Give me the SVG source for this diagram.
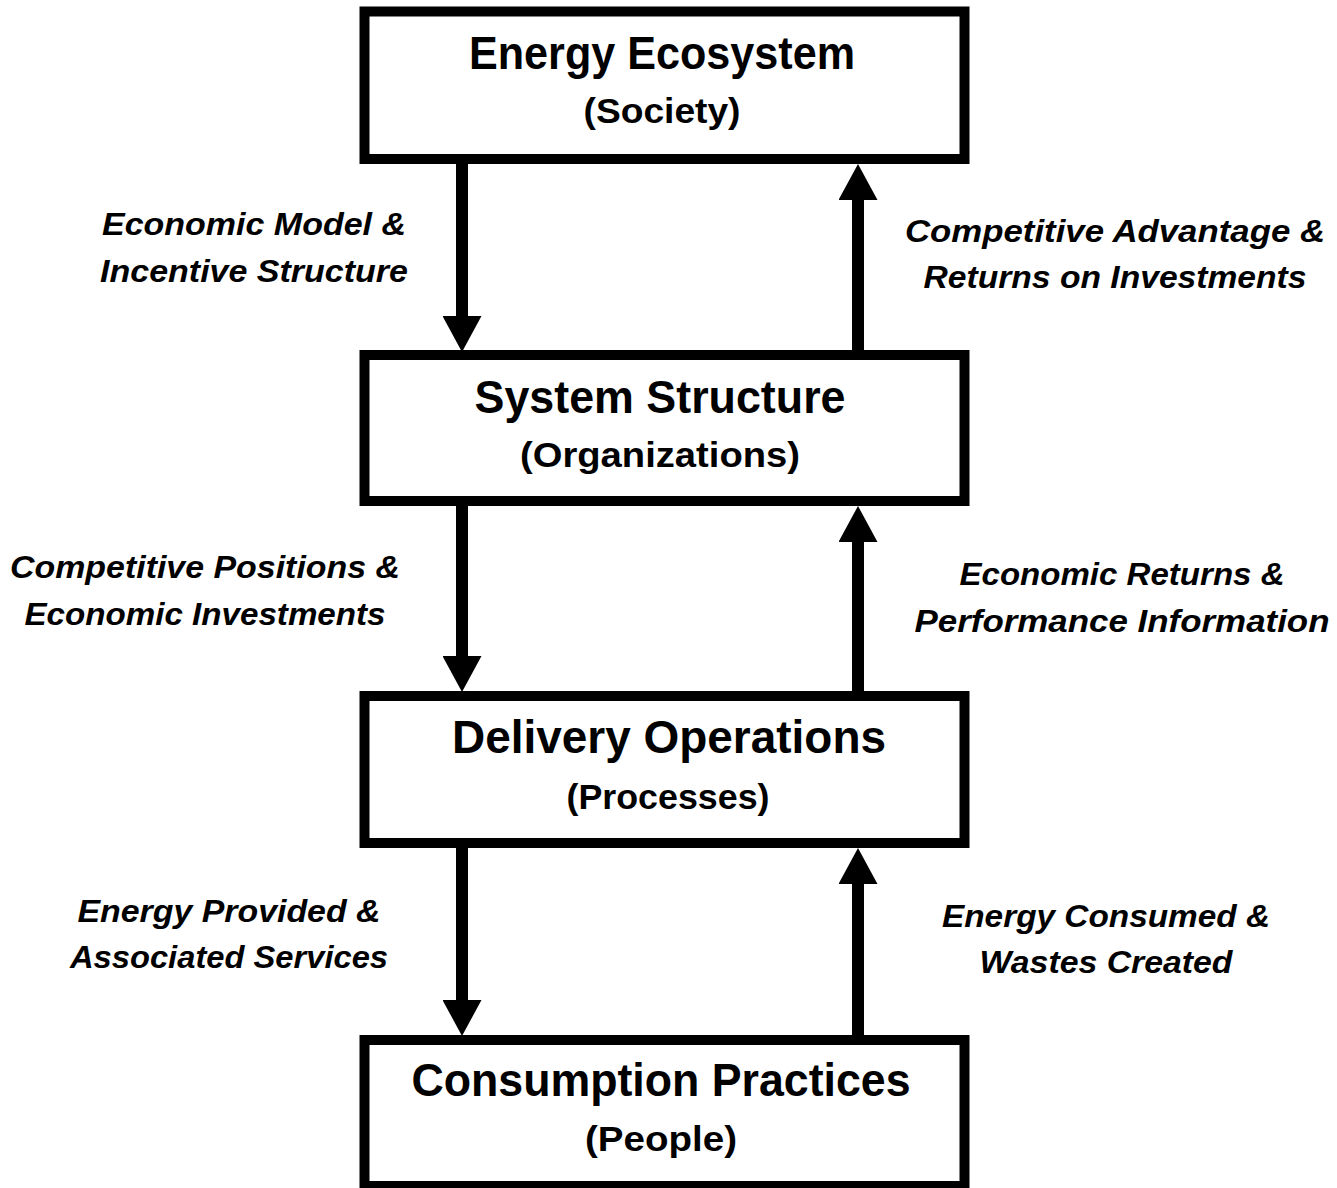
<svg xmlns="http://www.w3.org/2000/svg" width="1337" height="1188" viewBox="0 0 1337 1188">
<style>
.box{fill:#fff;stroke:#000;stroke-width:10}
.t{font-family:"Liberation Sans",Arial,sans-serif;font-weight:bold;fill:#000;text-anchor:middle}
.h{font-size:46px}
.s{font-size:35px}
.l{font-family:"Liberation Sans",Arial,sans-serif;font-weight:bold;font-style:italic;font-size:32px;fill:#000;text-anchor:middle}
.c{stroke:#000;stroke-width:12;fill:none}
</style>
<defs>
<marker id="ah" viewBox="0 0 36 39" refX="0" refY="19.5" markerWidth="36" markerHeight="39" markerUnits="userSpaceOnUse" orient="auto">
<path d="M0,0 L36,19.5 L0,39 Z" fill="#000"/>
</marker>
</defs>
<rect width="1337" height="1188" fill="#fff"/>
<g id="connectors">
<line class="c" x1="462" y1="162" x2="462" y2="316" marker-end="url(#ah)"/>
<line class="c" x1="858" y1="352" x2="858" y2="200" marker-end="url(#ah)"/>
<line class="c" x1="462" y1="504" x2="462" y2="656" marker-end="url(#ah)"/>
<line class="c" x1="858" y1="693" x2="858" y2="542" marker-end="url(#ah)"/>
<line class="c" x1="462" y1="846" x2="462" y2="1000" marker-end="url(#ah)"/>
<line class="c" x1="858" y1="1037" x2="858" y2="884" marker-end="url(#ah)"/>
</g>
<g id="labels">
<text class="l" x="254" y="235" textLength="304" lengthAdjust="spacingAndGlyphs">Economic Model &amp;</text>
<text class="l" x="254" y="282" textLength="308" lengthAdjust="spacingAndGlyphs">Incentive Structure</text>
<text class="l" x="1115" y="242" textLength="420" lengthAdjust="spacingAndGlyphs">Competitive Advantage &amp;</text>
<text class="l" x="1115" y="288" textLength="383" lengthAdjust="spacingAndGlyphs">Returns on Investments</text>
<text class="l" x="205" y="578" textLength="390" lengthAdjust="spacingAndGlyphs">Competitive Positions &amp;</text>
<text class="l" x="205" y="625" textLength="361" lengthAdjust="spacingAndGlyphs">Economic Investments</text>
<text class="l" x="1122" y="585" textLength="325" lengthAdjust="spacingAndGlyphs">Economic Returns &amp;</text>
<text class="l" x="1122" y="632" textLength="415" lengthAdjust="spacingAndGlyphs">Performance Information</text>
<text class="l" x="229" y="922" textLength="303" lengthAdjust="spacingAndGlyphs">Energy Provided &amp;</text>
<text class="l" x="229" y="968" textLength="318" lengthAdjust="spacingAndGlyphs">Associated Services</text>
<text class="l" x="1106" y="927" textLength="328" lengthAdjust="spacingAndGlyphs">Energy Consumed &amp;</text>
<text class="l" x="1106" y="973" textLength="253" lengthAdjust="spacingAndGlyphs">Wastes Created</text>
</g>
<g id="node-ecosystem">
<rect class="box" x="364.5" y="11.5" width="600" height="147.5"/>
<text class="t h" x="662" y="69" textLength="386" lengthAdjust="spacingAndGlyphs">Energy Ecosystem</text>
<text class="t s" x="662" y="123" textLength="157" lengthAdjust="spacingAndGlyphs">(Society)</text>
</g>
<g id="node-structure">
<rect class="box" x="364.5" y="355" width="600" height="146"/>
<text class="t h" x="660" y="413" textLength="371" lengthAdjust="spacingAndGlyphs">System Structure</text>
<text class="t s" x="660" y="467" textLength="280" lengthAdjust="spacingAndGlyphs">(Organizations)</text>
</g>
<g id="node-operations">
<rect class="box" x="364.5" y="696" width="600" height="147"/>
<text class="t h" x="669" y="753" textLength="434" lengthAdjust="spacingAndGlyphs">Delivery Operations</text>
<text class="t s" x="668" y="809" textLength="203" lengthAdjust="spacingAndGlyphs">(Processes)</text>
</g>
<g id="node-consumption">
<rect class="box" x="364.5" y="1040" width="600" height="146"/>
<text class="t h" x="661" y="1096" textLength="499" lengthAdjust="spacingAndGlyphs">Consumption Practices</text>
<text class="t s" x="661" y="1151" textLength="152" lengthAdjust="spacingAndGlyphs">(People)</text>
</g>
</svg>
